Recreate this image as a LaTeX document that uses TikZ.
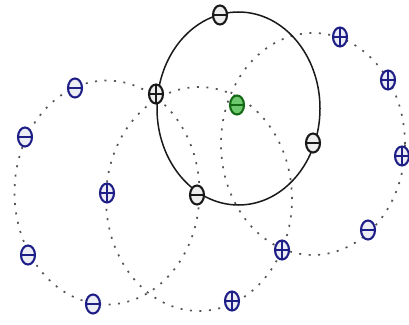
\documentclass[tikz,border=0pt]{standalone}
\usetikzlibrary{shapes.geometric,backgrounds}
\definecolor{qblue}{RGB}{30,30,135}
\definecolor{qblack}{RGB}{25,25,25}
\definecolor{qgreen}{RGB}{20,105,20}
\definecolor{qgfill}{RGB}{110,200,110}
\definecolor{dotgray}{RGB}{85,85,85}
\tikzset{
  charge/.style={ellipse, minimum width=14pt, minimum height=19pt, inner sep=0pt, line width=2.1pt, fill=white},
  pos/.style={charge, draw=#1, fill=#1!8, path picture={\draw[#1, line width=1.6pt]
      (path picture bounding box.north) -- (path picture bounding box.south)
      (path picture bounding box.west) -- (path picture bounding box.east);}},
  neg/.style={charge, draw=#1, fill=#1!8, path picture={\draw[#1, line width=1.6pt]
      (path picture bounding box.west) -- (path picture bounding box.east);}},
  orbit/.style={draw=dotgray, line width=1.7pt, dash pattern=on 2pt off 7.5pt},
  mainorbit/.style={draw=qblack, line width=1.5pt}
}
\begin{document}
\begin{tikzpicture}[x=1pt,y=-1pt]
\useasboundingbox (0,0) rectangle (409,324);
% circle centres
\coordinate (cA) at (107,192.5);
\coordinate (cB) at (313,144);
\coordinate (cD) at (199,199);
\coordinate (cS) at (238.5,108.5);
% black charges on the solid circle
\node[neg=qblack] (k1) at (220,15) {};
\node[pos=qblack] (k2) at (156,94) {};
\node[neg=qblack] (k3) at (313,143) {};
\node[neg=qblack] (k4) at (197,195) {};
% green charge
\node[neg=qgreen, fill=qgfill] (g) at (237,105) {};
% blue charges
\node[neg=qblue] (b1) at (75,88) {};
\node[neg=qblue] (b2) at (25,137) {};
\node[pos=qblue] (b3) at (107,193) {};
\node[neg=qblue] (b4) at (28,255) {};
\node[neg=qblue] (b5) at (93,304) {};
\node[pos=qblue] (b6) at (232,301) {};
\node[pos=qblue] (b7) at (282,250) {};
\node[neg=qblue] (b8) at (368,230) {};
\node[pos=qblue] (b9) at (402,156) {};
\node[pos=qblue] (b10) at (388,80) {};
\node[pos=qblue] (b11) at (340,37) {};
\begin{pgfonlayer}{background}
\draw[orbit] (cA) ellipse [x radius=92.5pt, y radius=112pt];
\draw[orbit] (cB) ellipse [x radius=92pt, y radius=111pt];
\draw[orbit] (cD) ellipse [x radius=93pt, y radius=112pt];
\draw[mainorbit] (cS) ellipse [x radius=81.5pt, y radius=96.5pt];
\end{pgfonlayer}
\end{tikzpicture}
\end{document}
